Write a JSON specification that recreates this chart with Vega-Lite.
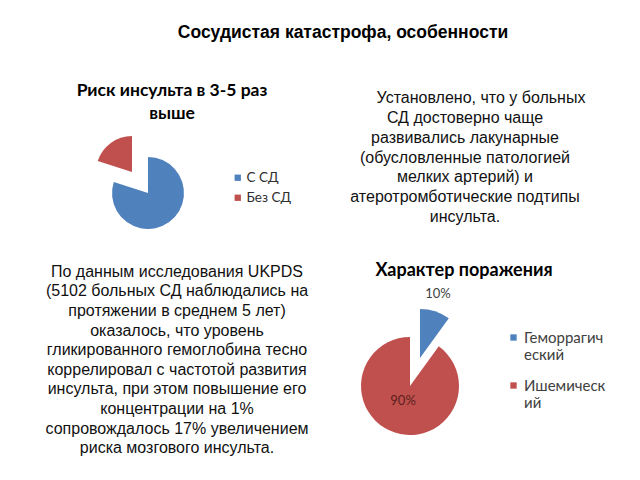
{
  "$schema": "https://vega.github.io/schema/vega-lite/v6.json",
  "padding": 0,
  "background": "white",
  "config": {"view": {"stroke": null}, "text": {"color": "#111111"}},
  "datasets": {
    "head": [{"t": "Сосудистая катастрофа, особенности"}],
    "t1": [{"i": 1, "t": "Риск инсульта в 3-5 раз"}, {"i": 2, "t": "выше"}],
    "t2": [
      {"i": 1, "t": "Установлено, что у больных"},
      {"i": 2, "t": "СД достоверно чаще"},
      {"i": 3, "t": "развивались лакунарные"},
      {"i": 4, "t": "(обусловленные патологией"},
      {"i": 5, "t": "мелких артерий) и"},
      {"i": 6, "t": "атеротромботические подтипы"},
      {"i": 7, "t": "инсульта."}
    ],
    "t3": [
      {"i": 1, "t": "По данным исследования UKPDS"},
      {"i": 2, "t": "(5102 больных СД наблюдались на"},
      {"i": 3, "t": "протяжении в среднем 5 лет)"},
      {"i": 4, "t": "оказалось, что уровень"},
      {"i": 5, "t": "гликированного гемоглобина тесно"},
      {"i": 6, "t": "коррелировал с частотой развития"},
      {"i": 7, "t": "инсульта, при этом повышение его"},
      {"i": 8, "t": "концентрации на 1%"},
      {"i": 9, "t": "сопровождалось 17% увеличением"},
      {"i": 10, "t": "риска мозгового инсульта."}
    ],
    "t4": [{"t": "Характер поражения"}],
    "pie1": [{"cat": "С СД", "value": 0.8}, {"cat": "Без СД", "value": 0.2}],
    "pie2": [{"cat": "Геморрагический", "value": 0.1}, {"cat": "Ишемический", "value": 0.9}]
  },
  "spacing": 0,
  "resolve": {"scale": {"color": "independent", "theta": "independent", "radius": "independent"}, "legend": {"color": "independent"}},
  "vconcat": [
    {
      "width": 640, "height": 78,
      "data": {"name": "head"},
      "mark": {"type": "text", "font": "Liberation Sans", "fontSize": 17.5, "fontWeight": "bold", "dx": 23, "dy": -6, "color": "#000000"},
      "encoding": {"text": {"field": "t"}}
    },
    {
      "spacing": 0,
      "resolve": {"scale": {"color": "independent", "theta": "independent", "radius": "independent"}, "legend": {"color": "independent"}},
      "hconcat": [
        {
          "spacing": 0,
          "resolve": {"scale": {"color": "independent", "theta": "independent", "radius": "independent"}, "legend": {"color": "independent"}},
          "vconcat": [
            {
              "width": 330, "height": 46,
              "data": {"name": "t1"},
              "mark": {"type": "text", "font": "Lato", "fontSize": 17.5, "fontWeight": "bold", "dx": 7, "dy": 1, "color": "#000000"},
              "encoding": {
                "y": {"field": "i", "type": "ordinal", "axis": null, "scale": {"type": "point", "padding": 0.5}},
                "text": {"field": "t"}
              }
            },
            {
              "width": 296, "height": 138,
              "data": {"name": "pie1"},
              "transform": [{"stack": "value", "groupby": [], "sort": [{"field": "cat", "order": "descending"}], "as": ["v0", "v1"]}],
              "encoding": {
                "theta": {"field": "v0", "type": "quantitative", "scale": {"domain": [0, 1]}},
                "theta2": {"field": "v1"},
                "color": {
                  "field": "cat", "type": "nominal",
                  "scale": {"domain": ["С СД", "Без СД"], "range": ["#4F81BD", "#C0504D"]},
                  "legend": {"title": null, "orient": "none", "legendX": 231, "legendY": 47, "symbolType": "square", "symbolSize": 40, "labelFont": "Lato", "labelFontSize": 13.5, "labelColor": "#303030", "rowPadding": 5, "padding": 0, "labelOffset": 2}
                }
              },
              "layer": [
                {"transform": [{"filter": "datum.cat == 'С СД'"}], "mark": {"type": "arc", "radius": 36}},
                {"transform": [{"filter": "datum.cat == 'Без СД'"}], "mark": {"type": "arc", "radius": 36, "xOffset": -16, "yOffset": -21}}
              ]
            },
            {
              "width": 330, "height": 196,
              "data": {"name": "t3"},
              "mark": {"type": "text", "font": "Liberation Sans", "fontSize": 16, "dx": 12},
              "encoding": {
                "y": {"field": "i", "type": "ordinal", "axis": null, "scale": {"type": "point", "padding": 0.5}},
                "text": {"field": "t"}
              }
            }
          ]
        },
        {
          "spacing": 0,
          "resolve": {"scale": {"color": "independent", "theta": "independent", "radius": "independent"}, "legend": {"color": "independent"}},
          "vconcat": [
            {
              "width": 270, "height": 159,
              "data": {"name": "t2"},
              "encoding": {
                "y": {"field": "i", "type": "ordinal", "axis": null, "scale": {"type": "point", "padding": 1.148}},
                "text": {"field": "t"}
              },
              "layer": [
                {"transform": [{"filter": "datum.i == 1"}], "mark": {"type": "text", "font": "Liberation Sans", "fontSize": 16, "dx": 16}},
                {"transform": [{"filter": "datum.i > 1"}], "mark": {"type": "text", "font": "Liberation Sans", "fontSize": 16}}
              ]
            },
            {
              "width": 268, "height": 44,
              "data": {"name": "t4"},
              "mark": {"type": "text", "font": "Lato", "fontSize": 18, "fontWeight": "bold", "dy": 12, "color": "#000000"},
              "encoding": {"text": {"field": "t"}}
            },
            {
              "width": 160, "height": 199,
              "data": {"name": "pie2"},
              "layer": [
                {
                  "transform": [
                    {"stack": "value", "groupby": [], "sort": [{"field": "cat", "order": "ascending"}], "as": ["v0", "v1"]},
                    {"filter": "datum.cat == 'Геморрагический'"}
                  ],
                  "mark": {"type": "arc", "radius": 49, "xOffset": 10, "yOffset": -22.5},
                  "encoding": {
                    "theta": {"field": "v0", "type": "quantitative", "scale": {"domain": [0, 1]}},
                    "theta2": {"field": "v1"},
                    "color": {
                      "field": "cat", "type": "nominal",
                      "scale": {"domain": ["Геморрагический", "Ишемический"], "range": ["#4F81BD", "#C0504D"]},
                      "legend": {"title": null, "orient": "none", "legendX": 176, "legendY": 49, "symbolType": "square", "symbolSize": 40, "labelFont": "Lato", "labelFontSize": 15, "labelColor": "#404040", "rowPadding": 15, "padding": 0, "labelOffset": 3, "labelExpr": "datum.label == 'Геморрагический' ? ['Геморрагич', 'еский'] : ['Ишемическ', 'ий']"}
                    }
                  }
                },
                {
                  "transform": [
                    {"stack": "value", "groupby": [], "sort": [{"field": "cat", "order": "ascending"}], "as": ["v0", "v1"]},
                    {"filter": "datum.cat == 'Ишемический'"}
                  ],
                  "mark": {"type": "arc", "radius": 49, "yOffset": 5.5},
                  "encoding": {
                    "theta": {"field": "v0", "type": "quantitative", "scale": {"domain": [0, 1]}},
                    "theta2": {"field": "v1"},
                    "color": {"field": "cat", "type": "nominal"}
                  }
                },
                {
                  "mark": {"type": "text", "font": "Lato", "fontSize": 13, "dy": 5.5, "dx": -2},
                  "encoding": {
                    "theta": {"field": "value", "type": "quantitative", "stack": true, "scale": {"domain": [0, 1]}},
                    "order": {"field": "value", "type": "quantitative", "sort": "ascending"},
                    "detail": {"field": "cat"},
                    "radius": {"field": "value", "type": "quantitative", "scale": {"type": "linear", "domain": [0.1, 0.9], "range": [97, 16], "zero": false}},
                    "text": {"field": "value", "type": "quantitative", "format": ".0%"},
                    "color": {"condition": {"test": "datum.cat == 'Геморрагический'", "value": "#404040"}, "value": "#5c2020"}
                  }
                }
              ]
            }
          ]
        }
      ]
    }
  ]
}
